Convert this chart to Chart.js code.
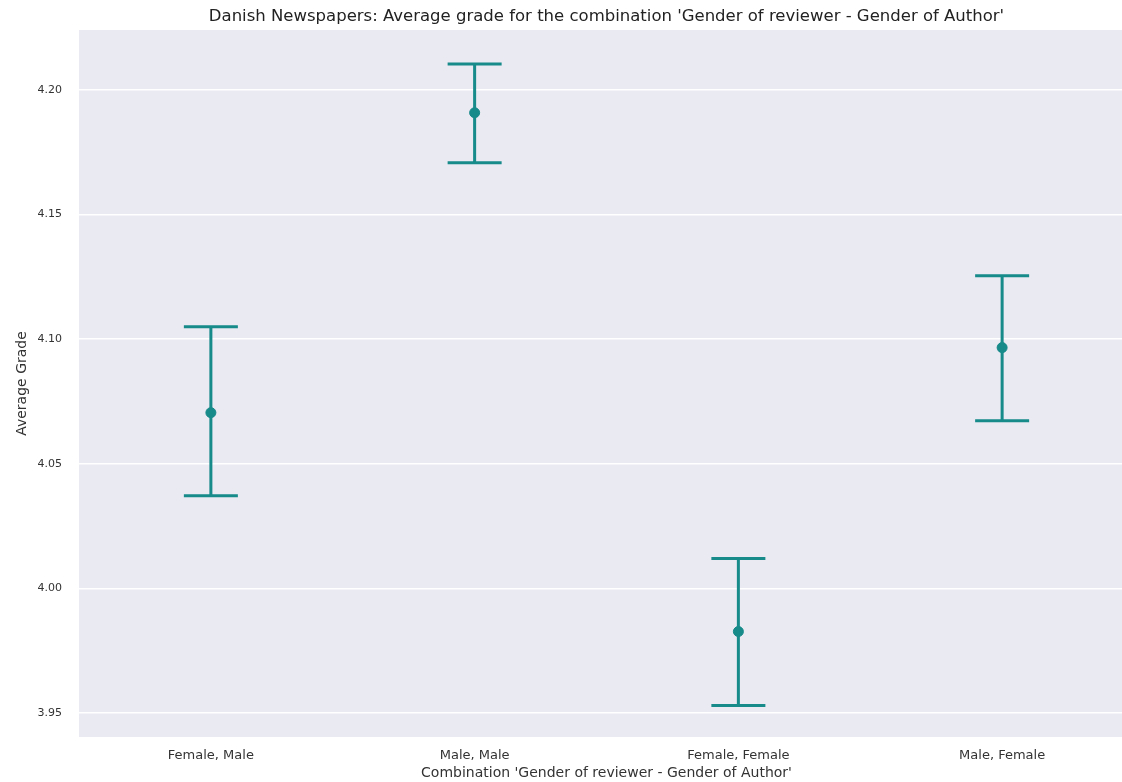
<!DOCTYPE html>
<html>
<head>
<meta charset="utf-8">
<script src="https://cdn.jsdelivr.net/npm/chart.js"></script>
<style>
  html, body { margin: 0; padding: 0; background: #fff; overflow: hidden; }
  #wrap { width: 1140px; height: 782px; }
</style>
</head>
<body>
<div id="wrap"><canvas id="chart"></canvas></div>
<script>
// values
const categories = ['Female, Male', 'Male, Male', 'Female, Female', 'Male, Female'];
const meanGrade = [4.0705, 4.1908, 3.9827, 4.0966];
const lowerCI = [4.0372, 4.1707, 3.9530, 4.0673];
const upperCI = [4.1050, 4.2104, 4.0120, 4.1254];
const yTicks = [3.95, 4.00, 4.05, 4.10, 4.15, 4.20];

const teal = '#178a8a';

// grey panel behind the plot, seaborn style
const panelBg = {
  id: 'panelBg',
  beforeDraw(chart) {
    const { ctx, chartArea: a } = chart;
    ctx.save();
    ctx.fillStyle = '#eaeaf2';
    ctx.fillRect(a.left, a.top, a.right - a.left, a.bottom - a.top);
    ctx.restore();
  }
};

// vertical error bars with caps
const errorBars = {
  id: 'errorBars',
  afterDatasetsDraw(chart) {
    const { ctx, scales: { x, y } } = chart;
    const cap = 27;
    ctx.save();
    ctx.strokeStyle = teal;
    ctx.lineWidth = 3;
    ctx.lineCap = 'butt';
    categories.forEach((c, i) => {
      const px = x.getPixelForValue(i);
      const lo = y.getPixelForValue(lowerCI[i]);
      const hi = y.getPixelForValue(upperCI[i]);
      ctx.beginPath();
      ctx.moveTo(px, lo); ctx.lineTo(px, hi);
      ctx.moveTo(px - cap, lo); ctx.lineTo(px + cap, lo);
      ctx.moveTo(px - cap, hi); ctx.lineTo(px + cap, hi);
      ctx.stroke();
    });
    ctx.restore();
  }
};

Chart.defaults.font.family = '"DejaVu Sans", sans-serif';
Chart.defaults.color = '#333';

new Chart(document.getElementById('chart'), {
  type: 'line',
  data: {
    labels: categories,
    datasets: [{
      data: meanGrade,
      showLine: false,
      pointRadius: 5,
      pointHoverRadius: 5,
      pointBackgroundColor: teal,
      pointBorderColor: teal,
      borderColor: teal
    }]
  },
  options: {
    responsive: true,
    maintainAspectRatio: false,
    animation: false,
    layout: { padding: { left: 0, right: 5, top: 0, bottom: 0 } },
    plugins: {
      legend: { display: false },
      tooltip: { enabled: false },
      title: {
        display: true,
        fullSize: false,
        text: "Danish Newspapers: Average grade for the combination 'Gender of reviewer - Gender of Author'",
        color: '#222',
        font: { size: 16.5, weight: 'normal', lineHeight: 1.2 },
        padding: { top: 7, bottom: 3.2 }
      }
    },
    scales: {
      x: {
        type: 'category',
        offset: true,
        grid: { display: false, drawTicks: false },
        border: { display: false },
        ticks: { padding: 11, font: { size: 13 }, color: '#333' },
        title: {
          display: true,
          text: "Combination 'Gender of reviewer - Gender of Author'",
          font: { size: 14 },
          color: '#333',
          padding: { top: 0, bottom: 0 }
        },
        afterFit(s) { s.height = 45; }
      },
      y: {
        min: 3.9404,
        max: 4.224,
        grid: { color: '#ffffff', lineWidth: 1.5, drawTicks: false },
        border: { display: false },
        afterBuildTicks(s) { s.ticks = yTicks.map(v => ({ value: v })); },
        ticks: {
          padding: 17,
          font: { size: 11 },
          color: '#333',
          callback: v => v.toFixed(2)
        },
        title: {
          display: true,
          text: 'Average Grade',
          font: { size: 14 },
          color: '#333',
          padding: { top: 13.6, bottom: 0 }
        },
        afterFit(s) { s.width = 79; }
      }
    }
  },
  plugins: [panelBg, errorBars]
});
</script>
</body>
</html>
